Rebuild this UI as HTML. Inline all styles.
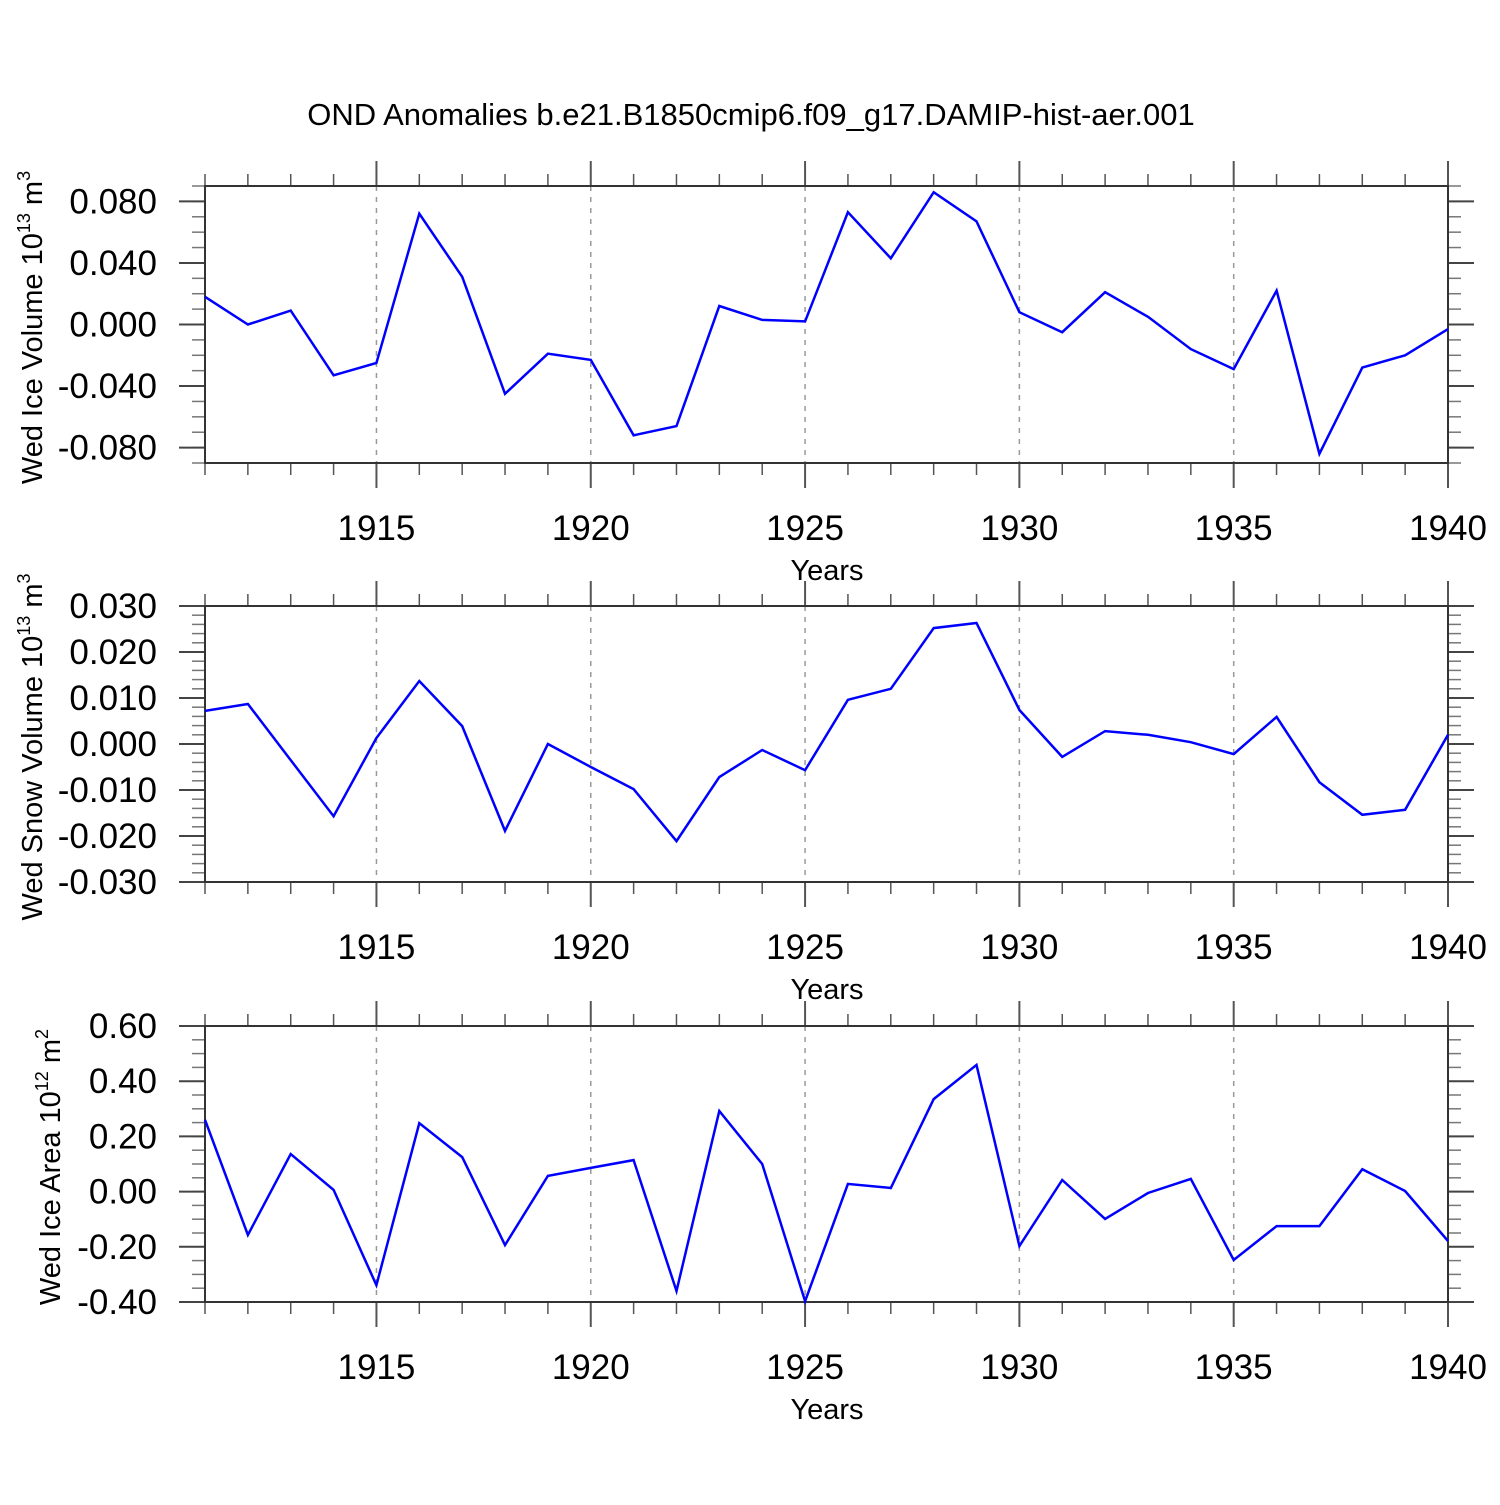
<!DOCTYPE html>
<html><head><meta charset="utf-8"><style>
body{margin:0;background:#fff}
svg text{font-family:"Liberation Sans",sans-serif;fill:#000}
</style></head><body>
<svg id="chart" width="1500" height="1500" viewBox="0 0 1500 1500" xmlns="http://www.w3.org/2000/svg">
<text x="751" y="125" font-size="31" text-anchor="middle">OND Anomalies b.e21.B1850cmip6.f09_g17.DAMIP-hist-aer.001</text>
</svg>
<script>
const years = [1911,1912,1913,1914,1915,1916,1917,1918,1919,1920,1921,1922,1923,1924,1925,1926,1927,1928,1929,1930,1931,1932,1933,1934,1935,1936,1937,1938,1939,1940];
const xTickLabels = [1915,1920,1925,1930,1935,1940];
const iceVolume = [0.018,0.000,0.009,-0.033,-0.025,0.072,0.031,-0.045,-0.019,-0.023,-0.072,-0.066,0.012,0.003,0.002,0.073,0.043,0.086,0.067,0.008,-0.005,0.021,0.005,-0.016,-0.029,0.022,-0.084,-0.028,-0.020,-0.003];
const snowVolume = [0.0072,0.0087,-0.0035,-0.0157,0.0013,0.0137,0.0039,-0.0189,0.0,-0.005,-0.0098,-0.0211,-0.0072,-0.0013,-0.0057,0.0096,0.012,0.0252,0.0263,0.0074,-0.0028,0.0028,0.002,0.0004,-0.0022,0.0059,-0.0083,-0.0154,-0.0143,0.002];
const iceArea = [0.26,-0.157,0.136,0.006,-0.339,0.248,0.125,-0.194,0.057,0.086,0.114,-0.36,0.292,0.1,-0.397,0.028,0.013,0.335,0.459,-0.197,0.042,-0.099,-0.005,0.046,-0.248,-0.125,-0.125,0.081,0.002,-0.179];
const iceVolTicks = ["0.080","0.040","0.000","-0.040","-0.080"];
const snowTicks = ["0.030","0.020","0.010","0.000","-0.010","-0.020","-0.030"];
const areaTicks = ["0.60","0.40","0.20","0.00","-0.20","-0.40"];

const svg = document.getElementById('chart');
const NS = 'http://www.w3.org/2000/svg';
const X0 = 205, X1 = 1448;
function xs(yr){ return X0 + (yr - 1911) / (1940 - 1911) * (X1 - X0); }
function mk(tag, attrs, parent){
  const e = document.createElementNS(NS, tag);
  for (const k in attrs) e.setAttribute(k, attrs[k]);
  (parent || svg).appendChild(e); return e;
}

const panels = [
 {name:'ice-volume', top:186, bot:463, min:-0.09, max:0.09, data:iceVolume, ticks:iceVolTicks, minor:0.01, label:'Wed Ice Volume 10', sup:'13', unit:' m', usup:'3', lx:42},
 {name:'snow-volume', top:606, bot:882, min:-0.03, max:0.03, data:snowVolume, ticks:snowTicks, minor:0.002, label:'Wed Snow Volume 10', sup:'13', unit:' m', usup:'3', lx:42},
 {name:'ice-area', top:1026, bot:1302, min:-0.4, max:0.6, data:iceArea, ticks:areaTicks, minor:0.05, label:'Wed Ice Area 10', sup:'12', unit:' m', usup:'2', lx:60}
];

panels.forEach(p => {
  const g = mk('g', {});
  
  
  const ys = v => p.bot - (v - p.min) / (p.max - p.min) * (p.bot - p.top);
  xTickLabels.slice(0, 5).forEach(yr => {
    const l = mk('line', {x1:xs(yr), x2:xs(yr), y1:p.top, y2:p.bot, stroke:'#999', 'stroke-width':1.5, 'stroke-dasharray':'5,6'}, g);
    
    
  });
  years.forEach(yr => {
    const major = yr % 5 === 0;
    const len = major ? 25 : 12;
    mk('line', {x1:xs(yr), x2:xs(yr), y1:p.top, y2:p.top - len, stroke:'#555', 'stroke-width':major?2:1.5}, g);
    mk('line', {x1:xs(yr), x2:xs(yr), y1:p.bot, y2:p.bot + len, stroke:'#555', 'stroke-width':major?2:1.5}, g);
  });
  const n = Math.round((p.max - p.min) / p.minor);
  for (let i = 0; i <= n; i++) {
    const v = p.min + i * p.minor;
    const y = ys(v);
    mk('line', {x1:X0, x2:X0 - 13, y1:y, y2:y, stroke:'#777', 'stroke-width':1.5}, g);
    mk('line', {x1:X1, x2:X1 + 13, y1:y, y2:y, stroke:'#777', 'stroke-width':1.5}, g);
  }
  p.ticks.forEach(t => {
    const y = ys(parseFloat(t));
    mk('line', {x1:X0, x2:X0 - 26, y1:y, y2:y, stroke:'#444', 'stroke-width':2}, g);
    mk('line', {x1:X1, x2:X1 + 26, y1:y, y2:y, stroke:'#444', 'stroke-width':2}, g);
    const tx = mk('text', {x:157, y:y + 12, 'font-size':35, 'text-anchor':'end'}, g);
    tx.textContent = t;
    
    
  });
  const fr = mk('rect', {x:X0, y:p.top, width:X1 - X0, height:p.bot - p.top, fill:'none', stroke:'#333', 'stroke-width':2}, g);
  
  
  xTickLabels.forEach(yr => {
    const tx = mk('text', {x:xs(yr), y:p.bot + 77, 'font-size':35, 'text-anchor':'middle'}, g);
    tx.textContent = yr;
    
    
  });
  const xt = mk('text', {x:827, y:p.bot + 117, 'font-size':29, 'text-anchor':'middle'}, g);
  xt.textContent = 'Years';
  
  
  const cy = (p.top + p.bot) / 2 + 3;
  const yt = mk('text', {x:0, y:0, 'font-size':29, 'text-anchor':'middle', transform:`translate(${p.lx},${cy}) rotate(-90)`}, g);
  
  
  const a = mk('tspan', {}, yt); a.textContent = p.label;
  const b = mk('tspan', {'font-size':18, dy:-12}, yt); b.textContent = p.sup;
  const c = mk('tspan', {dy:12}, yt); c.textContent = p.unit;
  const d = mk('tspan', {'font-size':18, dy:-12}, yt); d.textContent = p.usup;
  const pts = p.data.map((v, i) => xs(years[i]).toFixed(1) + ',' + ys(v).toFixed(1)).join(' ');
  const pl = mk('polyline', {points:pts, fill:'none', stroke:'#0000ff', 'stroke-width':2.5, 'stroke-linejoin':'miter'}, g);
  
  
});
</script>
</body></html>
